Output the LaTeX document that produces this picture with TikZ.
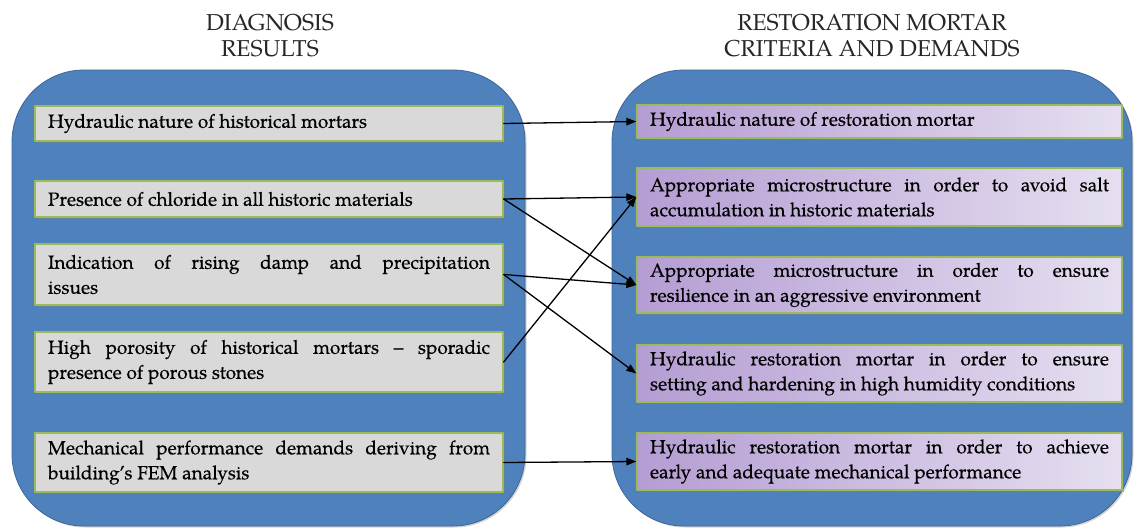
\documentclass[tikz,border=0pt]{standalone}
\usepackage{fontspec}
\setmainfont{TeX Gyre Pagella}
\newfontfamily\boxfont{TeX Gyre Pagella}[FakeBold=0.35]
\usetikzlibrary{arrows.meta,shadows}
\definecolor{panelblue}{HTML}{4F81BD}
\definecolor{paneledge}{HTML}{3B6699}
\definecolor{boxgray}{HTML}{D9D9D9}
\definecolor{boxedge}{HTML}{9BBB59}
\definecolor{critA}{HTML}{B49DD3}
\definecolor{critB}{HTML}{E6DFF0}
\tikzset{
  panel/.style={fill=panelblue, draw=paneledge, line width=0.8pt, rounded corners=72pt,
    drop shadow={shadow xshift=1.5pt, shadow yshift=-1.5pt, opacity=0.35}},
  diag/.style={rectangle, draw=boxedge, line width=1.3pt, fill=boxgray, text width=442pt,
    inner xsep=13pt, inner ysep=2pt, align=justify, text=black,
    font=\boxfont\fontsize{19}{25}\selectfont,
    drop shadow={shadow xshift=1.5pt, shadow yshift=-2pt, opacity=0.4}},
  crit/.style={diag, text width=459pt, left color=critA, right color=critB},
  head/.style={align=center, text=black!85, font=\fontsize{23}{26}\selectfont},
  link/.style={-{Triangle[length=10pt,width=7.5pt]}, line width=1.3pt},
  every picture/.style={line cap=round, line join=round}
}

\begin{document}
\begin{tikzpicture}[x=1pt, y=-1pt]
  \useasboundingbox (0,0) rectangle (1134,527);
  % the two panels
  \path[panel] (12,70) rectangle (525,526);
  \path[panel] (612,70) rectangle (1132,526);
  \node[head] (hd) at (270,36) {DIAGNOSIS\\RESULTS};
  \node[head] (hc) at (872,36) {RESTORATION MORTAR\\CRITERIA AND DEMANDS};
  % diagnosis results
  \node[diag, minimum height=35pt] (d1) at (269,123.5) {Hydraulic nature of historical mortars};
  \node[diag, minimum height=36pt] (d2) at (269,199) {Presence of chloride in all historic materials};
  \node[diag, minimum height=61pt] (d3) at (269,274.5) {Indication of rising damp and precipitation\linebreak issues};
  \node[diag, minimum height=60pt] (d4) at (269,362) {High porosity of historical mortars – sporadic\linebreak presence of porous stones};
  \node[diag, minimum height=59pt] (d5) at (269,462.5) {Mechanical performance demands deriving from\linebreak building’s FEM analysis};
  % criteria and demands
  \node[crit, minimum height=33pt] (c1) at (879.5,121.5) {Hydraulic nature of restoration mortar};
  \node[crit, minimum height=58pt] (c2) at (879.5,197) {Appropriate microstructure in order to avoid salt\linebreak accumulation in historic materials};
  \node[crit, minimum height=56pt] (c3) at (879.5,285) {Appropriate microstructure in order to ensure\linebreak resilience in an aggressive environment};
  \node[crit, minimum height=57pt] (c4) at (879.5,373.5) {Hydraulic restoration mortar in order to ensure\linebreak setting and hardening in high humidity conditions};
  \node[crit, minimum height=57pt] (c5) at (879.5,461.5) {Hydraulic restoration mortar in order to achieve\linebreak early and adequate mechanical performance};
  \draw[link] (d1.east) -- (c1.west);
  \draw[link] (d2.east) -- (c2.west);
  \draw[link] (d2.east) -- (c3.west);
  \draw[link] (d3.east) -- (c3.west);
  \draw[link] (d3.east) -- (c4.west);
  \draw[link] (d4.east) -- (c2.west);
  \draw[link] (d5.east) -- (c5.west);
\end{tikzpicture}
\end{document}
